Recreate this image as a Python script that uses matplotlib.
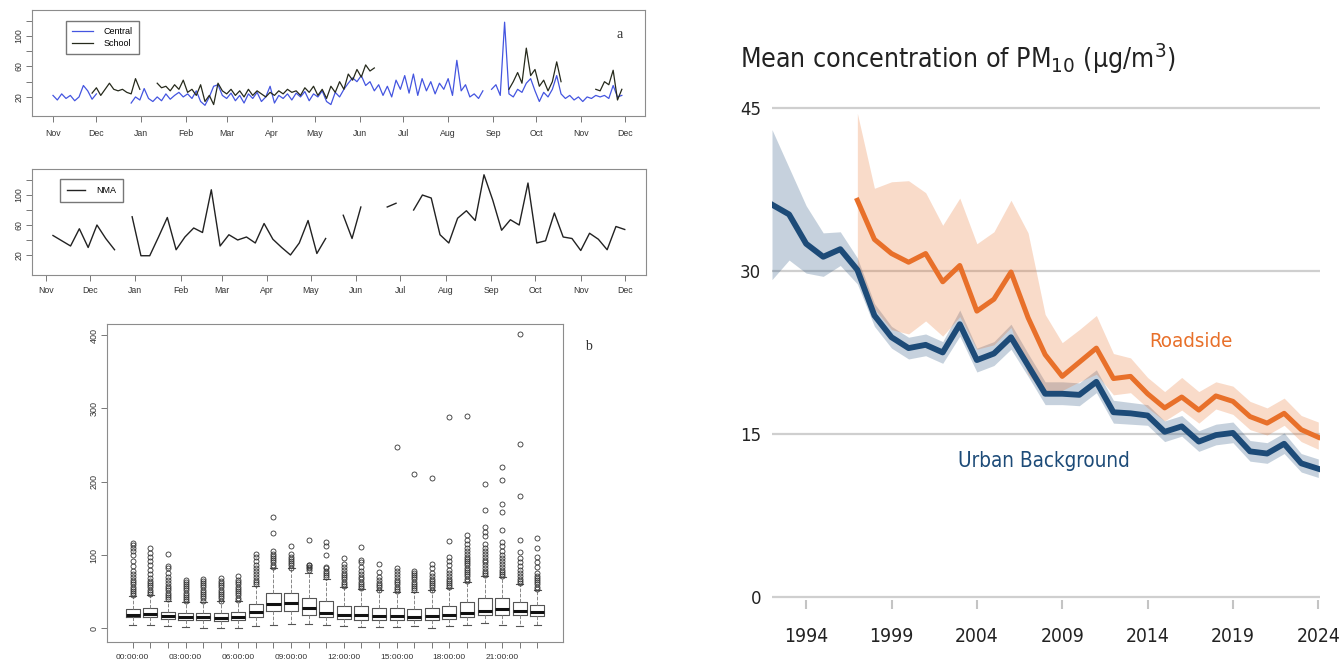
import numpy as np
import matplotlib
matplotlib.use("Agg")
import matplotlib.pyplot as plt
from matplotlib import font_manager

nan = np.nan

# ---- panel a (top): daily PM10, one value every 3rd day, day 0 = 1 Nov
month_labels = ["Nov", "Dec", "Jan", "Feb", "Mar", "Apr", "May", "Jun",
                "Jul", "Aug", "Sep", "Oct", "Nov", "Dec"]
month_days = [0, 30, 61, 92, 120, 151, 181, 212, 242, 273, 304, 334, 365, 395]

central = [22, 16, 24, 18, 22, 15, 20, 35, 28, 17,
           24, nan, nan, nan, nan, nan, nan, nan, 12, 20,
           16, 31, 18, 14, 20, 15, 24, 17, 22, 26,
           20, 24, 18, 28, 14, 9, 20, 34, 36, 22,
           18, 25, 15, 22, 12, 24, 18, 26, 14, 20,
           34, 12, 22, 18, 24, 16, 25, 20, 27, 15,
           24, 20, 28, 14, 10, 26, 20, 30, 38, 45,
           40, 48, 35, 40, 28, 36, 22, 34, 20, 42,
           30, 48, 25, 50, 22, 44, 28, 40, 24, 38,
           30, 44, 22, 68, 28, 36, 20, 24, 18, 28,
           nan, 30, 36, 22, 118, 24, 20, 30, 26, 38,
           44, 28, 14, 26, 20, 30, 48, 24, 18, 22,
           16, 20, 14, 20, 18, 22, 20, 22, 18, 35,
           20, 22]

school = [nan, nan, nan, nan, nan, nan, nan, nan, nan, 25,
          32, 22, 30, 38, 30, 28, 30, 26, 24, 44,
          30, nan, nan, nan, 38, 32, 34, 28, 36, 30,
          42, 26, 30, 22, 36, 14, 22, 10, 38, 28,
          24, 30, 22, 28, 20, 30, 22, 28, 24, 20,
          26, 22, 28, 24, 30, 26, 28, 22, 32, 26,
          34, 22, 30, 18, 34, 26, 40, 30, 50, 42,
          56, 46, 62, 54, 58, nan, nan, nan, nan, nan,
          nan, nan, nan, nan, nan, nan, nan, nan, nan, nan,
          nan, nan, nan, nan, nan, nan, nan, nan, nan, nan,
          nan, nan, nan, nan, nan, 30, 40, 52, 38, 84,
          48, 56, 34, 42, 28, 40, 66, 40, nan, nan,
          nan, nan, nan, nan, nan, 30, 28, 40, 36, 55,
          16, 30]

# ---- panel a (middle): NMA, one sample every 6th day starting 6 Nov
nma = [46, 39, 32, 55, 30, 60, 42, 27, nan, 71,
       19, 19, 44, 70, 27, 44, 56, 50, 107, 32,
       47, 40, 44, 36, 62, 41, 30, 20, 36, 66,
       22, 42, nan, 73, 42, 84, nan, nan, 84, 89,
       nan, 80, 100, 96, 47, 36, 69, 79, 66, 127,
       93, 53, 67, 60, 116, 36, 39, 76, 44, 42,
       26, 49, 41, 27, 58, 54]

# ---- panel b: hourly box plot statistics
hour_labels = ["00:00:00", "", "", "03:00:00", "", "", "06:00:00", "", "",
               "09:00:00", "", "", "12:00:00", "", "", "15:00:00", "", "",
               "18:00:00", "", "", "21:00:00", "", ""]
q1 = [15, 16, 13, 11, 11, 10, 11, 16, 24, 24, 18, 15, 13, 12, 12, 12, 12, 12, 13, 15, 18, 18, 18, 17]
med = [19, 20, 17, 15, 15, 14, 15, 22, 33, 35, 28, 21, 19, 18, 17, 17, 16, 17, 18, 21, 24, 26, 24, 22]
q3 = [26, 28, 23, 21, 21, 21, 22, 33, 48, 48, 42, 37, 31, 30, 28, 28, 27, 28, 30, 36, 41, 41, 36, 32]
whislo = [5, 5, 3, 2, 1, 1, 0, 3, 5, 6, 6, 5, 3, 2, 2, 2, 3, 1, 3, 5, 7, 5, 4, 5]
whishi = [44, 46, 38, 36, 36, 37, 38, 58, 83, 82, 76, 67, 57, 54, 52, 50, 50, 52, 55, 64, 72, 70, 60, 52]
outliers = [
    [45, 48, 51, 54, 57, 60, 63, 66, 70, 74, 79, 85, 92, 100, 105, 110, 114, 117],
    [47, 50, 53, 56, 59, 62, 65, 69, 74, 80, 86, 92, 98, 103, 110],
    [40, 43, 46, 49, 52, 55, 58, 62, 66, 70, 76, 83, 85, 102],
    [37, 40, 43, 46, 49, 52, 55, 58, 61, 64, 66],
    [38, 41, 44, 47, 50, 53, 56, 59, 62, 65, 68],
    [38, 41, 44, 47, 50, 53, 56, 59, 62, 65, 69],
    [39, 42, 45, 48, 51, 54, 57, 60, 63, 66, 71],
    [60, 63, 66, 70, 74, 78, 82, 87, 92, 97, 102],
    [84, 87, 90, 93, 96, 99, 102, 105, 130, 152],
    [83, 86, 89, 92, 95, 98, 101, 112],
    [80, 82, 84, 86, 87, 120],
    [70, 73, 76, 79, 82, 84, 100, 112, 118],
    [58, 61, 64, 67, 70, 73, 76, 80, 84, 88, 96],
    [55, 58, 61, 64, 67, 70, 74, 78, 84, 90, 93, 111],
    [53, 56, 59, 62, 66, 70, 77, 88],
    [51, 54, 57, 60, 63, 66, 70, 74, 78, 83, 247],
    [52, 55, 58, 61, 64, 67, 70, 73, 76, 79, 211],
    [53, 56, 59, 62, 65, 68, 72, 76, 82, 88, 205],
    [56, 59, 62, 65, 68, 71, 75, 80, 86, 92, 98, 119, 288],
    [65, 68, 71, 74, 77, 80, 83, 86, 89, 92, 95, 98, 102, 106, 110, 115, 121, 127, 289],
    [73, 76, 79, 82, 86, 90, 94, 98, 102, 106, 110, 115, 126, 132, 138, 162, 197],
    [71, 74, 77, 80, 84, 88, 92, 96, 100, 105, 112, 118, 134, 159, 170, 203, 220],
    [62, 65, 68, 72, 76, 80, 85, 90, 96, 104, 120, 180, 251, 401],
    [54, 57, 60, 63, 66, 69, 72, 76, 84, 90, 97, 110, 124],
]

# ---- right chart: mean PM10 with ranges
ub_years = list(range(1992, 2025))
ub_mean = [36.1, 35.2, 32.5, 31.3, 32.0, 30.1, 25.9, 23.9, 22.9, 23.2, 22.5,
           25.1, 21.8, 22.4, 23.9, 21.3, 18.7, 18.7, 18.6, 19.8, 17.0, 16.9,
           16.7, 15.2, 15.7, 14.3, 14.9, 15.1, 13.4, 13.2, 14.1, 12.3, 11.8]
ub_lo = [29.2, 31.0, 29.8, 29.5, 30.5, 28.8, 24.9, 22.9, 21.9, 22.2, 21.5,
         24.0, 20.7, 21.3, 22.8, 20.3, 17.7, 17.7, 17.6, 18.8, 16.0, 15.9,
         15.8, 14.3, 14.8, 13.4, 14.0, 14.2, 12.5, 12.3, 13.2, 11.5, 11.0]
ub_hi = [43.0, 39.5, 36.0, 33.5, 33.6, 31.2, 27.0, 24.9, 23.9, 24.2, 23.5,
         26.4, 22.9, 23.5, 25.1, 22.4, 19.8, 19.8, 19.7, 20.9, 18.1, 17.9,
         17.7, 16.2, 16.7, 15.3, 15.9, 16.1, 14.4, 14.2, 15.1, 13.2, 12.7]
rs_years = list(range(1997, 2025))
rs_mean = [36.5, 32.9, 31.6, 30.8, 31.6, 29.0, 30.5, 26.3, 27.4, 29.9,
           25.7, 22.3, 20.3, 21.6, 22.9, 20.1, 20.3, 18.7, 17.4, 18.4,
           17.2, 18.5, 18.0, 16.6, 16.0, 16.9, 15.4, 14.7]
rs_hi = [44.5, 37.6, 38.2, 38.3, 37.2, 34.2, 36.7, 32.5, 33.6, 36.5,
         33.5, 26.0, 23.4, 24.6, 25.9, 22.4, 22.0, 20.2, 18.9, 20.2,
         18.9, 19.8, 19.4, 18.0, 17.4, 18.3, 16.7, 16.1]
rs_lo = [29.5, 26.5, 24.6, 24.2, 25.4, 24.0, 25.8, 22.8, 23.2, 24.8,
         20.5, 18.6, 19.0, 19.8, 20.5, 18.6, 18.8, 17.4, 16.2, 17.2,
         16.0, 17.3, 16.8, 15.4, 14.9, 15.8, 14.3, 13.6]
year_ticks = [1994, 1999, 2004, 2009, 2014, 2019, 2024]

plt.rcParams["font.family"] = ["Liberation Sans", "DejaVu Sans"]

W, H = 1343, 667
fig = plt.figure(figsize=(W / 100, H / 100), dpi=100)
fig.patch.set_facecolor("white")


def place(l, t, r, b):
    return fig.add_axes([l / W, 1 - b / H, (r - l) / W, (b - t) / H])


def r_style(ax, size=6.3):
    for s in ax.spines.values():
        s.set_color("#8c8c8c")
        s.set_linewidth(0.8)
    ax.tick_params(colors="#777777", labelcolor="#333333", length=4,
                   width=0.7, labelsize=size, pad=2)


# top panel
ax1 = place(32, 10, 645, 116)
c_days = np.arange(len(central)) * 3
ax1.plot(c_days, central, color="#4455e0", lw=0.9, label="Central")
ax1.plot(c_days, school, color="#262a1c", lw=0.9, label="School")
ax1.set_xlim(-14.5, 409)
ax1.set_ylim(-5, 134)
ax1.set_xticks(month_days)
ax1.set_xticklabels(month_labels)
ax1.set_yticks([20, 40, 60, 80, 100, 120])
ax1.set_yticklabels(["20", "", "60", "", "100", ""], rotation=90, va="center")
r_style(ax1)
ax1.tick_params(axis="x", pad=5)
ax1.legend(loc="upper left", bbox_to_anchor=(0.0555, 0.896), fontsize=6.5,
           frameon=True, fancybox=False, edgecolor="#777777", framealpha=1,
           handlelength=2.3, borderpad=0.7, labelspacing=0.3,
           borderaxespad=0, handletextpad=1.2)
fig.text(620 / W, 1 - 35 / H, "a", family="Liberation Serif", fontsize=10,
         ha="center", va="center", color="#333333")

# middle panel
ax2 = place(32, 169, 646, 275)
n_days = 5 + 6 * np.arange(len(nma))
ax2.plot(n_days, nma, color="#222222", lw=1.0, label="NMA")
ax2.set_xlim(-9.3, 409.5)
ax2.set_ylim(-6.7, 134.7)
ax2.set_xticks(month_days)
ax2.set_xticklabels(month_labels)
ax2.set_yticks([20, 40, 60, 80, 100, 120])
ax2.set_yticklabels(["20", "", "60", "", "100", ""], rotation=90, va="center")
r_style(ax2)
ax2.tick_params(axis="x", pad=4)
ax2.legend(loc="upper left", bbox_to_anchor=(0.0456, 0.906), fontsize=6.5,
           frameon=True, fancybox=False, edgecolor="#777777", framealpha=1,
           handlelength=2.0, borderpad=0.8, borderaxespad=0,
           handletextpad=1.2)

# box plot panel
ax3 = place(106.7, 324, 562.7, 641.7)
stats = []
for i in range(len(med)):
    stats.append({"q1": q1[i], "med": med[i], "q3": q3[i],
                  "whislo": whislo[i], "whishi": whishi[i],
                  "fliers": outliers[i]})
ax3.bxp(stats, positions=range(1, len(med) + 1), widths=0.8,
        boxprops=dict(color="#555555", lw=0.8),
        medianprops=dict(color="#111111", lw=2.2),
        whiskerprops=dict(color="#888888", lw=0.7, linestyle="--"),
        capprops=dict(color="#555555", lw=0.8),
        flierprops=dict(marker="o", markerfacecolor="none",
                        markeredgecolor="#333333", markersize=3.6,
                        markeredgewidth=0.6))
ax3.set_xlim(-0.48, 25.44)
ax3.set_ylim(-18, 415)
ax3.set_xticks(range(1, len(med) + 1))
ax3.set_xticklabels(hour_labels)
ax3.set_yticks([0, 100, 200, 300, 400])
ax3.set_yticklabels(["0", "100", "200", "300", "400"], rotation=90, va="center")
r_style(ax3, 6.0)
ax3.tick_params(axis="y", labelsize=6.5)
ax3.tick_params(axis="x", pad=5)
fig.text(588 / W, 1 - 347 / H, "b", family="Liberation Serif", fontsize=10,
         ha="center", va="center", color="#333333")

# right chart
cond = any(f.name == "DejaVu Sans" and f.stretch == "condensed"
           for f in font_manager.fontManager.ttflist)
rk = dict(family="DejaVu Sans", stretch="condensed") if cond else dict(family="DejaVu Sans")
k = 1.11 if cond else 1.0

navy = "#1d4b78"
orange = "#e8702a"
ax4 = place(772, 97, 1320, 600.3)
ax4.fill_between(ub_years, ub_lo, ub_hi, color=navy, alpha=0.25, lw=0)
ax4.fill_between(rs_years, rs_lo, rs_hi, color=orange, alpha=0.25, lw=0)
ax4.plot(ub_years, ub_mean, color=navy, lw=4.2)
ax4.plot(rs_years, rs_mean, color=orange, lw=3.6)
ax4.set_xlim(1992, 2024.1)
ax4.set_ylim(-0.3, 46)
ax4.set_yticks([0, 15, 30, 45])
ax4.set_xticks(year_ticks)
ax4.grid(axis="y", color="#cfcfcf", lw=1.6)
ax4.set_axisbelow(True)
for s in ax4.spines.values():
    s.set_visible(False)
ax4.tick_params(axis="y", length=0, pad=8, labelcolor="#222222")
ax4.tick_params(axis="x", length=6.5, width=1.5, color="#c4c4c4",
                labelcolor="#222222", pad=13)
for lab in ax4.get_xticklabels() + ax4.get_yticklabels():
    lab.set_fontfamily(rk["family"])
    lab.set_fontstretch(rk.get("stretch", "normal"))
for lab in ax4.get_xticklabels():
    lab.set_fontsize(12.5 * k)
for lab in ax4.get_yticklabels():
    lab.set_fontsize(12 * k)
ax4.text(2014.1, 23.0, "Roadside", color=orange, fontsize=13.2 * k,
         va="baseline", ha="left", **rk)
ax4.text(2002.9, 12.0, "Urban Background", color=navy, fontsize=13.4 * k,
         va="baseline", ha="left", **rk)
fig.text(740 / W, 1 - 68 / H, "Mean concentration of PM$_{10}$ (µg/m$^3$)",
         fontsize=17.2 * k, color="#222222", va="baseline", ha="left", **rk)

fig.savefig("out.png", dpi=100, facecolor="white")
